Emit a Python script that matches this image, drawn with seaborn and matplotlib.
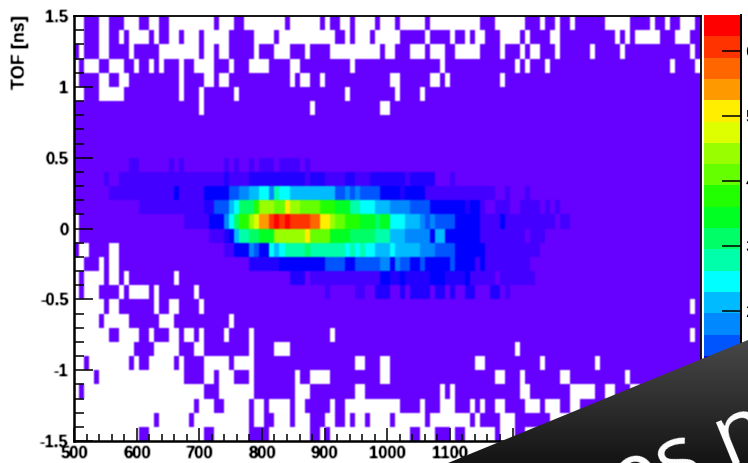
import numpy as np
import pandas as pd
import matplotlib
matplotlib.use('Agg')
import matplotlib.pyplot as plt
from matplotlib.colors import ListedColormap, LinearSegmentedColormap
from matplotlib.patches import Polygon
import seaborn as sns

# ---- data ----
band_colors = ['#6600ff', '#4400ff', '#2200ff', '#0000ff', '#0055ff', '#0088ff', '#00bbff',
               '#00ffff', '#00ffaa', '#00ff66', '#00ff22', '#22ff00', '#66ff00', '#99ff00',
               '#ddff00', '#ffee00', '#ff9900', '#ff6600', '#ff3300', '#ff0000']
z_max = 65.6
n_cols = 125
n_rows = 30
x_ticks = [500, 600, 700, 800, 900, 1000, 1100, 1200, 1300, 1400, 1500]
y_ticks = [1.5, 1, 0.5, 0, -0.5, -1, -1.5]
y_labels = ['1.5', '1', '0.5', '0', '-0.5', '-1', '-1.5']
z_ticks = [10, 20, 30, 40, 50, 60]

# bins with no entries, (first col, end col) per row, row 0 is the top one
empty_top = [
    [(0, 2), (5, 7), (10, 13), (15, 17), (19, 28), (29, 32), (34, 42), (43, 49), (50, 51), (53, 55),
     (56, 60), (61, 64), (65, 70), (71, 81), (84, 90), (93, 94), (96, 97), (99, 100), (106, 111),
     (115, 116), (118, 119), (121, 124)],
    [(0, 2), (5, 7), (9, 10), (11, 15), (16, 17), (19, 21), (22, 25), (26, 28), (28, 31), (36, 37),
     (37, 40), (41, 43), (43, 52), (54, 55), (56, 59), (60, 65), (70, 71), (75, 76), (78, 79),
     (80, 82), (85, 89), (90, 91), (95, 97), (108, 109), (110, 111), (112, 117), (120, 123)],
    [(1, 2), (5, 7), (11, 12), (17, 25), (26, 28), (29, 31), (36, 37), (40, 43), (46, 47), (51, 60),
     (60, 61), (62, 64), (67, 70), (71, 74), (76, 81), (85, 86), (89, 90), (91, 93), (96, 97),
     (103, 104), (109, 110), (123, 124)],
    [(0, 1), (2, 5), (7, 10), (12, 13), (15, 16), (17, 18), (21, 22), (24, 28), (31, 32), (35, 39),
     (43, 45), (55, 56), (73, 74), (88, 89), (90, 91), (94, 95), (119, 120), (124, 125)],
    [(0, 1), (5, 7), (9, 11), (21, 22), (26, 28), (29, 31), (43, 44), (45, 47), (49, 50), (63, 65),
     (71, 73), (74, 75), (85, 86)],
    [(0, 2), (5, 10), (21, 22), (25, 26), (32, 33), (54, 55), (64, 65), (69, 70)],
    [(25, 26), (47, 48), (61, 63)],
]
empty_bottom = {
    14: [(0, 1)],
    15: [(0, 1)],
    16: [(1, 3), (7, 9)],
    17: [(0, 2), (5, 6), (7, 9)],
    18: [(0, 1), (2, 6), (7, 9), (10, 11), (20, 21)],
    19: [(0, 1), (2, 5), (9, 10), (11, 15), (16, 17), (24, 25)],
    20: [(0, 6), (7, 9), (16, 17), (19, 21), (25, 26), (123, 124)],
    21: [(0, 5), (6, 11), (17, 20), (31, 32)],
    22: [(0, 7), (9, 13), (15, 16), (19, 21), (22, 24), (25, 26), (30, 31), (35, 36), (51, 52),
         (123, 124)],
    23: [(0, 12), (16, 21), (24, 26), (35, 36), (40, 43), (88, 89)],
    24: [(0, 2), (3, 11), (12, 13), (15, 20), (21, 22), (26, 31), (32, 36), (56, 58), (61, 63),
         (80, 82), (93, 94), (104, 105)],
    25: [(0, 4), (5, 22), (26, 28), (29, 32), (35, 36), (44, 45), (47, 51), (61, 63), (84, 86),
         (89, 90), (97, 99), (110, 111)],
    26: [(0, 1), (2, 26), (29, 36), (44, 47), (56, 58), (73, 74), (75, 76), (89, 91), (99, 104),
         (106, 108), (111, 113)],
    27: [(0, 13), (13, 24), (25, 28), (30, 35), (36, 38), (39, 43), (44, 46), (51, 52), (54, 65),
         (69, 70), (73, 76), (79, 80), (81, 82), (84, 86), (90, 93), (94, 97), (99, 101)],
    28: [(0, 16), (17, 23), (24, 35), (36, 38), (40, 43), (44, 47), (50, 52), (54, 55), (56, 58),
         (59, 63), (64, 70), (71, 79), (80, 81), (85, 88), (95, 99)],
    29: [(0, 13), (15, 26), (28, 35), (39, 47), (49, 50), (51, 67), (69, 72), (75, 76), (78, 84),
         (85, 88), (90, 110)],
}

# colour band per row, (col where it starts, band), band holds until the next entry
band_runs = {
    10: [(11, 1), (13, 0), (19, 1), (20, 0), (21, 1), (22, 0), (30, 1), (31, 0), (32, 1), (33, 0),
         (35, 1), (36, 0), (37, 1), (40, 0), (41, 1), (45, 0), (46, 1), (47, 0)],
    11: [(6, 1), (7, 0), (9, 1), (30, 2), (31, 1), (35, 2), (46, 1), (47, 2), (50, 1), (54, 2),
         (56, 1), (59, 2), (66, 1), (67, 2), (72, 0), (75, 1), (76, 0)],
    12: [(7, 1), (20, 3), (21, 1), (26, 3), (31, 4), (33, 5), (35, 6), (37, 7), (39, 5), (40, 8),
         (41, 7), (43, 6), (52, 4), (54, 5), (55, 4), (56, 5), (57, 4), (61, 3), (65, 2), (66, 3),
         (70, 1), (84, 0), (86, 1), (87, 0), (90, 1), (91, 0)],
    13: [(13, 1), (26, 2), (28, 4), (31, 6), (32, 7), (33, 9), (36, 11), (37, 13), (40, 12),
         (42, 15), (43, 13), (45, 12), (49, 11), (52, 10), (55, 8), (57, 7), (60, 6), (63, 5),
         (67, 4), (71, 3), (78, 2), (79, 3), (81, 1), (82, 0), (84, 1), (87, 0), (89, 1), (93, 0),
         (94, 1), (95, 0), (96, 1), (97, 0)],
    14: [(22, 1), (27, 3), (30, 5), (31, 7), (32, 9), (33, 11), (35, 13), (36, 14), (37, 16),
         (39, 18), (40, 19), (41, 18), (42, 19), (43, 18), (47, 17), (49, 15), (51, 13), (52, 12),
         (54, 11), (57, 10), (60, 9), (61, 10), (63, 7), (66, 6), (69, 5), (70, 4), (71, 5),
         (72, 4), (76, 3), (81, 1), (85, 3), (86, 1), (96, 0), (97, 1), (99, 0)],
    15: [(27, 1), (30, 2), (31, 3), (32, 6), (33, 8), (35, 9), (37, 10), (40, 13), (46, 15),
         (47, 12), (51, 10), (55, 9), (60, 8), (63, 6), (66, 5), (71, 3), (72, 6), (74, 3),
         (81, 1), (90, 0), (91, 1), (94, 0)],
    16: [(30, 1), (32, 3), (35, 5), (36, 4), (37, 3), (39, 7), (40, 6), (41, 7), (42, 8), (46, 9),
         (47, 8), (54, 7), (55, 8), (56, 7), (57, 8), (58, 7), (60, 6), (63, 7), (64, 6), (69, 5),
         (72, 4), (76, 3), (82, 1), (93, 0)],
    17: [(35, 2), (41, 3), (50, 4), (54, 3), (56, 4), (61, 5), (63, 3), (64, 5), (65, 4), (67, 3),
         (69, 4), (70, 3), (75, 4), (76, 3), (80, 1), (81, 3), (82, 1), (91, 0)],
    18: [(43, 2), (46, 0), (47, 1), (61, 3), (63, 2), (65, 3), (66, 2), (71, 3), (74, 2), (78, 3),
         (79, 1), (84, 0), (85, 1), (92, 0)],
    19: [(50, 1), (51, 0), (56, 1), (58, 0), (60, 2), (63, 0), (65, 2), (66, 0), (67, 2), (71, 0),
         (72, 2), (74, 0), (75, 2), (76, 0), (78, 2), (80, 0), (83, 2), (85, 0), (86, 1), (87, 0)],
}

# dark slide banner lying over the corner
banner_edge = [(448, 463), (748, 340), (748, 463)]
banner_text = 'es n'


# the reference is an upscaled screenshot, so soften the marks a little
def soften(img, dpi):
    out = img
    for axis in (0, 1):
        pad = [(1, 1) if a == axis else (0, 0) for a in range(3)]
        p = np.pad(out, pad, mode='edge')
        if axis == 0:
            out = 0.25 * p[:-2] + 0.5 * p[1:-1] + 0.25 * p[2:]
        else:
            out = 0.25 * p[:, :-2] + 0.5 * p[:, 1:-1] + 0.25 * p[:, 2:]
    return out, 0, 0


def soften_text(img, dpi):
    out, _, _ = soften(np.pad(img, ((2, 2), (2, 2), (0, 0))), dpi)
    out[..., 3] = np.clip(out[..., 3] * 1.35, 0, 1)
    return out, -2, -2


# ---- build the histogram ----
bands = np.zeros((n_rows, n_cols))
for row, runs in band_runs.items():
    for i, (start, band) in enumerate(runs):
        end = runs[i + 1][0] if i + 1 < len(runs) else n_cols
        bands[row, start:end] = band
counts = (bands + 0.5) * z_max / len(band_colors)

empty = np.zeros((n_rows, n_cols), dtype=bool)
for row, runs in enumerate(empty_top):
    for start, end in runs:
        empty[row, start:end] = True
for row, runs in empty_bottom.items():
    for start, end in runs:
        empty[row, start:end] = True

hist = pd.DataFrame(counts)

plt.rcParams['font.family'] = ['Liberation Sans', 'DejaVu Sans']
W, H = 748, 463
fig = plt.figure(figsize=(W / 100, H / 100), dpi=100, facecolor='white')
ax = fig.add_axes([74 / W, 1 - 441 / H, (700.5 - 74) / W, (441 - 16) / H])
cax = fig.add_axes([704 / W, 1 - 441 / H, (741 - 704) / W, (441 - 15) / H])

palette = ListedColormap(band_colors)
palette.set_bad('white')
sns.heatmap(hist, mask=empty, cmap=palette, vmin=0, vmax=z_max,
            xticklabels=False, yticklabels=False, ax=ax, cbar_ax=cax)
ax.collections[0].set_agg_filter(soften)
ax.set_xlabel('')
ax.set_ylabel('')
for name, spine in ax.spines.items():
    spine.set_visible(True)
    spine.set_color('black')
    spine.set_linewidth(1.3)
ax.spines['left'].set_linewidth(1.8)
ax.spines['bottom'].set_linewidth(1.8)

# histogram axes run 500..1500 and 1.5..-1.5, heatmap counts in bins
to_col = lambda v: (v - 500) / (1000 / n_cols)
to_row = lambda v: (1.5 - v) / (3 / n_rows)

ax.set_xticks([to_col(v) for v in x_ticks])
ax.set_xticklabels([str(v) for v in x_ticks])
ax.set_xticks([to_col(v) for v in range(500, 1500, 20) if v % 100], minor=True)
ax.set_yticks([to_row(v) for v in y_ticks])
ax.set_yticklabels(y_labels)
ax.set_yticks([to_row(v / 10) for v in range(-15, 16) if v % 5], minor=True)

ax.tick_params(axis='x', which='major', direction='in', length=9.5, width=1.1, pad=3.5,
               labelsize=12, labelrotation=0, bottom=True)
ax.tick_params(axis='x', which='minor', direction='in', length=5, width=1.1, bottom=True)
ax.tick_params(axis='y', which='major', direction='in', length=14, width=1.1, pad=4,
               labelsize=12, labelrotation=0, left=True)
ax.tick_params(axis='y', which='minor', direction='in', length=7, width=1.1, left=True)
for label in ax.get_xticklabels() + ax.get_yticklabels():
    label.set_fontweight('bold')
    label.set_color('black')
    label.set_agg_filter(soften_text)

ylab = fig.text(20.5 / W, 1 - 15 / H, 'TOF [ns]', rotation=90, ha='center', va='top',
                fontsize=13, fontweight='bold', color='black')
ylab.set_agg_filter(soften_text)

cbar = ax.collections[0].colorbar
cbar.set_ticks(z_ticks)
cbar.set_ticklabels([str(v) for v in z_ticks])
cbar.ax.tick_params(direction='in', length=14, width=1.1, pad=3, labelsize=12,
                    right=True, color='black')
cbar.outline.set_visible(False)
cbar.ax.spines['right'].set_visible(True)
cbar.ax.spines['right'].set_color('black')
cbar.ax.spines['right'].set_linewidth(1.4)

# banner on top of everything, in pixel coordinates
over = fig.add_axes([0, 0, 1, 1], facecolor='none')
over.set_xlim(0, W)
over.set_ylim(H, 0)
over.axis('off')
shade = np.linspace(0, 1, 200)[:, None]
banner_cmap = LinearSegmentedColormap.from_list('banner', ['#4a4a4a', '#303030', '#141414'])
img = over.imshow(shade, extent=(440, W, H, 335), cmap=banner_cmap,
                  aspect='auto', interpolation='bilinear', zorder=5)
img.set_clip_path(Polygon(banner_edge, transform=over.transData))
over.set_xlim(0, W)
over.set_ylim(H, 0)
over.text(624, 510, banner_text, rotation=22.3, rotation_mode='anchor', ha='left', va='baseline',
          color='white', fontsize=62, family='Open Sans', zorder=6, clip_on=True)

fig.savefig('out.png', dpi=100)
